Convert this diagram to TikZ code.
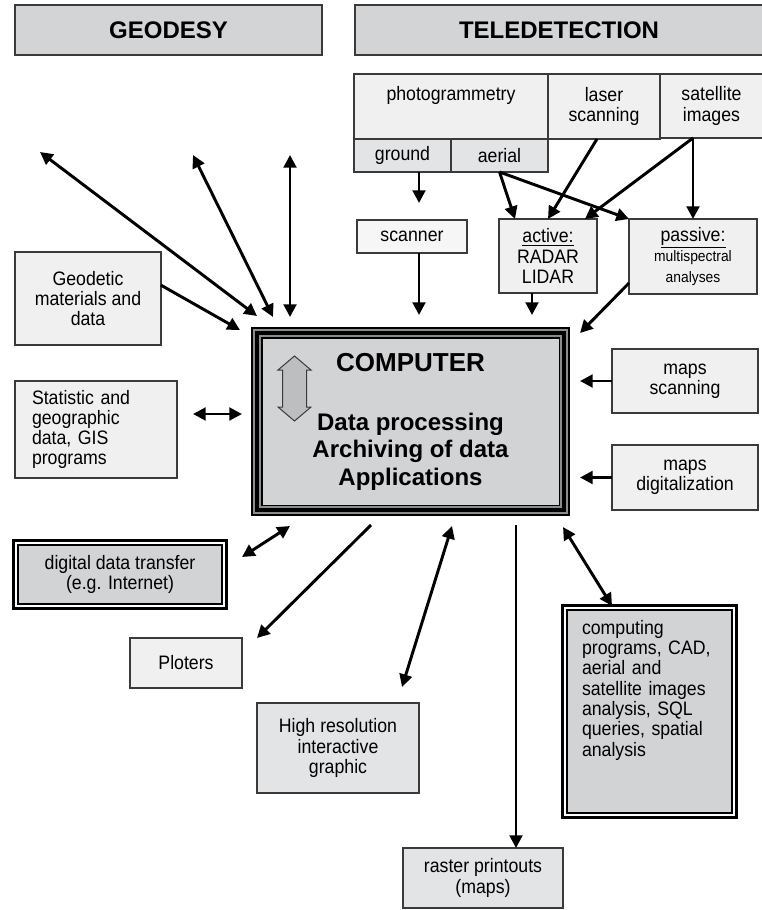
\documentclass[tikz,border=0pt]{standalone}
\usepackage{fontspec}
\setmainfont{Liberation Sans}
\newfontfamily\bodyfont{Liberation Sans}[FakeStretch=0.91]
\usetikzlibrary{arrows.meta,positioning}
\definecolor{boxline}{HTML}{3A3A3A}
\definecolor{headfill}{HTML}{D3D4D6}
\definecolor{lightfill}{HTML}{F0F0F0}
\definecolor{midfill}{HTML}{E3E4E6}
\definecolor{darkfill}{HTML}{D2D3D5}
\definecolor{framegray}{HTML}{8C8C8C}
\definecolor{arrowfill}{HTML}{BDBEC0}

\begin{document}
\begin{tikzpicture}[
    x=0.75pt, y=-0.75pt,
    box/.style={
      draw=boxline,
      line width=1.1pt,
      fill=lightfill,
      outer sep=0pt,
      inner sep=2pt,
      align=center,
      font=\bodyfont\fontsize{14.6}{15.2}\selectfont
    },
    headbox/.style={
      box,
      fill=headfill,
      minimum height=37.5pt,
      font=\bfseries\fontsize{18}{20}\selectfont
    },
    framebox/.style={
      box,
      fill=darkfill,
      draw=black,
      line width=0.8pt
    },
    arrow/.style={-{Triangle[length=9.5pt,width=9.5pt]}, line width=2.2pt},
    twoway/.style={{Triangle[length=9.5pt,width=9.5pt]}-{Triangle[length=9.5pt,width=9.5pt]}, line width=2.2pt}
  ]
    \useasboundingbox (0,0) rectangle (761,910);

    % headers
    \node[headbox, minimum width=230.25pt] (geodesy) at (168.5,30) {GEODESY};
    \node[headbox, minimum width=306pt] (teledet) at (559,30) {TELEDETECTION};

    % teledetection sources
    \node[box, minimum width=145.5pt, minimum height=48.75pt] (photo) at (451,106.5) {photogrammetry\\ \strut};
    \node[box, minimum width=84pt, minimum height=48.75pt] (laser) at (604,106.5) {laser\\scanning};
    \node[box, minimum width=77.25pt, minimum height=48pt] (satellite) at (711.5,106) {satellite\\images};
    \node[box, fill=midfill, minimum width=72.75pt, minimum height=24.75pt] (ground) at (402.5,155.5) {ground};
    \node[box, fill=midfill, minimum width=72.75pt, minimum height=24.75pt, right=0pt of ground] (aerial) {aerial};

    \node[box, fill=lightfill!60, minimum width=82.5pt, minimum height=24.75pt] (scanner) at (412,236.5) {scanner};
    \node[box, minimum width=73.5pt, minimum height=55.5pt] (active) at (548,256) {\underline{active:}\\RADAR\\LIDAR};
    \node[box, minimum width=96pt, minimum height=56.25pt] (passive) at (693,256.5)
      {\underline{passive:}\\{\fontsize{11.4}{13.5}\selectfont multispectral}\\{\fontsize{11.4}{13.5}\selectfont analyses}};

    % central computer
    \node[box, fill=darkfill, draw=black, line width=0.75pt, minimum width=222.75pt, minimum height=125.25pt,
      font=\bfseries\fontsize{18}{20.6}\selectfont] (computer) at (410.5,421.5)
      {{\fontsize{19.5}{20.6}\selectfont COMPUTER}\\[23.6pt]Data processing\\Archiving of data\\Applications};
    \draw[line width=8.6pt] ([shift={(-5.75,-5.75)}]computer.north west) rectangle ([shift={(5.75,5.75)}]computer.south east);
    \foreach \d in {2,8}
      \draw[framegray, line width=1pt] ([shift={(-\d,-\d)}]computer.north west) rectangle ([shift={(\d,\d)}]computer.south east);
    \draw[draw=boxline, fill=arrowfill, line width=0.75pt]
      (294.5,356) -- (311,370) -- (306.5,370) -- (306.5,407) -- (311,407) -- (294.5,421)
      -- (278,407) -- (282.5,407) -- (282.5,370) -- (278,370) -- cycle;

    % left side
    \node[box, minimum width=109.5pt, minimum height=69.75pt] (geodetic) at (88,298.5) {Geodetic\\materials and\\data};
    \node[box, minimum width=121.5pt, minimum height=72.75pt, align=left, text width=96pt] (statistic) at (96,429.5)
      {Statistic and\\geographic\\data, GIS\\programs};
    \node[framebox, minimum width=153pt, minimum height=44.25pt] (transfer) at (120,574.5) {digital data transfer\\(e.g. Internet)};

    % right side
    \node[box, minimum width=109.5pt, minimum height=48pt] (mapscan) at (685,381) {maps\\scanning};
    \node[box, minimum width=109.5pt, minimum height=48.75pt] (mapdig) at (685,477.5) {maps\\digitalization};

    % outputs
    \node[box, minimum width=84pt, minimum height=37.5pt] (ploters) at (186,663) {Ploters};
    \node[box, fill=midfill, minimum width=121.5pt, minimum height=67.5pt] (highres) at (338,748) {High resolution\\interactive\\graphic};
    \node[box, fill=midfill, minimum width=120pt, minimum height=45pt] (raster) at (483,878) {raster printouts\\(maps)};
    \node[framebox, minimum width=123.75pt, minimum height=152.25pt, align=left, text width=101.25pt] (computing) at (649.5,711.5)
      {computing\\programs, CAD,\\aerial and\\satellite images\\analysis, SQL\\queries, spatial\\analysis\\ \strut\\ \strut};

    \foreach \n in {transfer,computing}
      \draw[line width=2.6pt] ([shift={(-4.3,-4.3)}]\n.north west) rectangle ([shift={(4.3,4.3)}]\n.south east);

    % free arrow ends
    \coordinate (tA) at (40,152);
    \coordinate (tB) at (193,155);
    \coordinate (tC) at (290,155);
    \coordinate (pA) at (257,316);
    \coordinate (pB) at (273,317);
    \coordinate (pC) at (290,317);
    \coordinate (pGeo) at (240,330);
    \coordinate (qStat) at (193,414);
    \coordinate (pStat) at (242,414);
    \coordinate (pScan) at (419,315);
    \coordinate (pActive) at (532,315);
    \coordinate (pPassive) at (580,333);
    \coordinate (pMapS) at (580,381);
    \coordinate (pMapD) at (580,477.5);
    \coordinate (pNet) at (290,526);
    \coordinate (qNet) at (242,557);
    \coordinate (pPlot) at (371,525);
    \coordinate (qPlot) at (257,638);
    \coordinate (pHigh) at (452,526);
    \coordinate (qHigh) at (402,687);
    \coordinate (pRaster) at (516,525);
    \coordinate (pComp) at (563,527);
    \coordinate (qComp) at (612,606);
    \coordinate (satfork) at (satellite.south -| passive.north);

    \draw[twoway] (tA) -- (pA);
    \draw[twoway] (tB) -- (pB);
    \draw[twoway] (tC) -- (pC);
    \draw[arrow] ([yshift=10pt]geodetic.east) -- (pGeo);
    \draw[twoway] (qStat) -- (pStat);

    \draw[arrow, shorten >=12.75pt] (ground.south -| pScan) -- (scanner.north -| pScan);
    \draw[arrow] (scanner.south -| pScan) -- (pScan);
    \draw[arrow] (aerial.south) -- ([xshift=12pt]active.north west);
    \draw[arrow] (aerial.south) -- (passive.north west);
    \draw[arrow] ([xshift=-5.25pt]laser.south) -- (active.north);
    \draw[arrow] (satfork) -- ([xshift=-9pt]active.north east);
    \draw[arrow] (satfork) -- (passive.north);
    \draw[arrow] (active.south -| pActive) -- (pActive);
    \draw[arrow] ([yshift=-19.9pt]passive.west) -- (pPassive);
    \draw[arrow] (mapscan.west) -- (pMapS);
    \draw[arrow] (mapdig.west) -- (pMapD);

    \draw[twoway] (qNet) -- (pNet);
    \draw[arrow] (pPlot) -- (qPlot);
    \draw[twoway] (qHigh) -- (pHigh);
    \draw[arrow] (pRaster) -- (raster.north -| pRaster);
    \draw[twoway] (pComp) -- (qComp);
  \end{tikzpicture}
\end{document}
